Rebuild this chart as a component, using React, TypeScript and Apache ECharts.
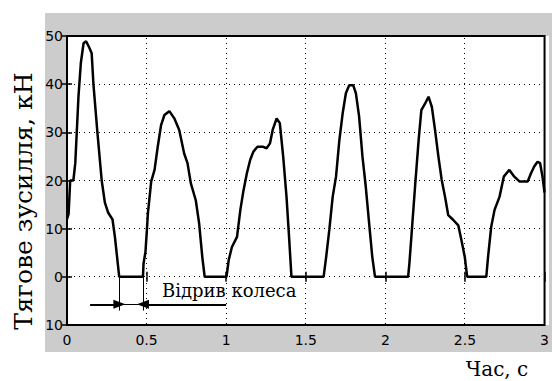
import React, { useEffect, useRef } from "react";
import * as echarts from "echarts";

// Time, s
const time = [
  0, 0.01, 0.02, 0.04, 0.052, 0.072, 0.087, 0.104, 0.12, 0.141, 0.155, 0.166, 0.191, 0.218, 0.238, 0.259, 0.286, 0.301, 0.328,
  0.477, 0.481, 0.493, 0.502, 0.508, 0.529, 0.55, 0.57, 0.591, 0.612, 0.643, 0.674, 0.705, 0.736, 0.757, 0.778, 0.809, 0.83, 0.85, 0.865,
  1.002, 1.016, 1.036, 1.068, 1.089, 1.109, 1.13, 1.151, 1.171, 1.196, 1.233, 1.254, 1.275, 1.292, 1.317, 1.337, 1.358, 1.379, 1.395, 1.41,
  1.612, 1.628, 1.648, 1.669, 1.69, 1.711, 1.732, 1.752, 1.773, 1.798, 1.815, 1.835, 1.856, 1.877, 1.898, 1.918, 1.935,
  2.143, 2.151, 2.168, 2.188, 2.209, 2.226, 2.25, 2.271, 2.292, 2.312, 2.333, 2.354, 2.375, 2.395, 2.427, 2.458, 2.478, 2.499, 2.514,
  2.634, 2.645, 2.665, 2.686, 2.717, 2.744, 2.779, 2.81, 2.842, 2.894, 2.915, 2.935, 2.956, 2.972, 2.987, 3.0,
];
// Traction force, kN
const force = [
  12, 13, 20, 20, 23.6, 37.4, 44.4, 48.5, 48.9, 47.5, 46.4, 40, 30, 20, 15.4, 13.3, 11.9, 8.3, 0,
  0, 2.8, 5.2, 9.8, 13.1, 19.8, 22.2, 27, 31.5, 33.6, 34.4, 32.9, 30.5, 25.6, 23.6, 19.4, 15.9, 11.1, 4.1, 0,
  0, 3.5, 6.2, 8.3, 13.9, 18, 21.5, 24.3, 26, 27, 27, 26.7, 27.7, 30.5, 32.9, 31.9, 25, 16.6, 8.3, 0,
  0, 4.1, 9.8, 16.6, 20.8, 28.4, 34, 38.1, 39.8, 39.8, 38.1, 33.3, 25, 18.7, 11.1, 4.1, 0,
  0, 2.8, 10.4, 19.4, 28.4, 34.6, 36, 37.4, 35.3, 30.5, 25, 20.1, 16.6, 12.8, 11.8, 10.7, 7.6, 4.1, 0,
  0, 4.1, 10.4, 13.9, 16.6, 20.8, 22.2, 20.8, 19.8, 19.8, 21.5, 22.9, 23.9, 23.6, 20.8, 17.5,
];

// Grid levels
const yGridLevels = [0, 10, 20, 30, 40];
const xGridLevels = [0.5, 1, 1.5, 2, 2.5];

// Wheel lift-off annotation (data units)
const liftStart = 0.329;
const liftEnd = 0.477;
const arrowLevel = -5.7;
const arrowLeftFrom = 0.145;
const arrowRightFrom = 1.0;
const markerTop = 0;
const markerBottom = -7;

const xTicks = { min: 0, max: 3, interval: 0.5 };
const yTicks = { min: -10, max: 50, interval: 10 };

const yTitle = "Тягове зусилля, кН";
const xTitle = "Час, с";
const noteText = "Відрив колеса";

const SERIF = "DejaVu Serif";
const SANS = "DejaVu Sans";
const DOT_PITCH = 5;

export default function App() {
  const ref = useRef<HTMLDivElement>(null);
  useEffect(() => {
    if (!ref.current) return;
    const chart = echarts.init(ref.current, undefined, { renderer: "svg" });
    const labelFont = { color: "#000", fontSize: 14, fontFamily: SANS };
    const plain = { symbol: "none" };
    const tick = { inside: true, length: 5, lineStyle: { color: "#000", width: 1.5 } };

    const dotRect = (x: number, y: number) => ({
      type: "rect",
      shape: { x: Math.floor(x), y: Math.floor(y), width: 1, height: 1 },
      style: { fill: "#000" },
      silent: true,
    });

    chart.setOption({
      animation: false,
      backgroundColor: "#fff",
      graphic: [
        { type: "rect", z: -100, shape: { x: 45, y: 13, width: 507, height: 339 }, style: { fill: "#cccccc" }, silent: true },
        { type: "rect", z: -90, shape: { x: 67, y: 36, width: 482, height: 289 }, style: { fill: "#ffffff" }, silent: true },
        {
          type: "text", x: 23, y: 201, rotation: Math.PI / 2, silent: true,
          style: { text: yTitle, fontSize: 25, fontFamily: SERIF, fill: "#000", textAlign: "center", textVerticalAlign: "middle" },
        },
        {
          type: "text", x: 497, y: 369, silent: true,
          style: { text: xTitle, fontSize: 20, fontFamily: SERIF, fill: "#000", textAlign: "center", textVerticalAlign: "middle" },
        },
        {
          type: "text", x: 162, y: 290, silent: true, z: 100,
          style: { text: noteText, fontSize: 18, fontFamily: SERIF, fill: "#000", textAlign: "left", textVerticalAlign: "middle" },
        },
      ],
      grid: { left: 67, top: 36, right: 3, bottom: 56, show: true, borderColor: "#000", borderWidth: 2 },
      xAxis: [
        {
          type: "value", ...xTicks, position: "bottom",
          axisLine: { show: false },
          axisTick: tick,
          axisLabel: { ...labelFont, margin: 8, formatter: (v: number) => String(v) },
          splitLine: { show: false },
        },
        {
          type: "value", ...xTicks, position: "top",
          axisLine: { show: false },
          axisTick: tick,
          axisLabel: { show: false },
          splitLine: { show: false },
        },
      ],
      yAxis: [
        {
          type: "value", ...yTicks, position: "left",
          axisLine: { show: false },
          axisTick: tick,
          axisLabel: { ...labelFont, margin: 4, formatter: (v: number) => String(Math.abs(v)) },
          splitLine: { show: false },
        },
        {
          type: "value", ...yTicks, position: "right",
          axisLine: { show: false },
          axisTick: tick,
          axisLabel: { show: false },
          splitLine: { show: false },
        },
      ],
      series: [
        {
          // horizontal dotted grid lines
          type: "custom",
          silent: true,
          z: 1,
          clip: false,
          data: yGridLevels.map((v) => [xTicks.min, v]),
          renderItem: (params: any, api: any) => {
            const v = api.value(1);
            const p0 = api.coord([xTicks.min, v]);
            const p1 = api.coord([xTicks.max, v]);
            const children: any[] = [];
            for (let x = p0[0] + 2; x < p1[0] - 1; x += DOT_PITCH) children.push(dotRect(x, p0[1]));
            return { type: "group", children };
          },
        },
        {
          // vertical dotted grid lines
          type: "custom",
          silent: true,
          z: 1,
          clip: false,
          data: xGridLevels.map((t) => [t, yTicks.min]),
          renderItem: (params: any, api: any) => {
            const t = api.value(0);
            const p0 = api.coord([t, yTicks.max]);
            const p1 = api.coord([t, yTicks.min]);
            const children: any[] = [];
            for (let y = p0[1] + 2; y < p1[1] - 1; y += DOT_PITCH) children.push(dotRect(p0[0], y));
            return { type: "group", children };
          },
        },
        {
          type: "line",
          data: time.map((t, i) => [t, force[i]]),
          showSymbol: false,
          symbol: "none",
          lineStyle: { color: "#000", width: 2.5 },
          silent: true,
          z: 5,
          markLine: {
            silent: true,
            animation: false,
            label: { show: false },
            emphasis: { disabled: true },
            symbolSize: [9, 12],
            data: [
              [
                { coord: [arrowLeftFrom, arrowLevel], symbol: "none", lineStyle: { color: "#000", width: 2, type: "solid" } },
                { coord: [liftStart, arrowLevel], symbol: "triangle" },
              ],
              [
                { coord: [arrowRightFrom, arrowLevel], symbol: "none", lineStyle: { color: "#000", width: 2, type: "solid" } },
                { coord: [liftEnd, arrowLevel], symbol: "triangle" },
              ],
              [
                { coord: [liftStart, arrowLevel], ...plain, lineStyle: { color: "#000", width: 1, type: "solid" } },
                { coord: [liftEnd, arrowLevel], ...plain },
              ],
              [
                { coord: [liftStart, markerTop], ...plain, lineStyle: { color: "#000", width: 1, type: "solid" } },
                { coord: [liftStart, markerBottom], ...plain },
              ],
              [
                { coord: [liftEnd, markerTop], ...plain, lineStyle: { color: "#000", width: 1, type: "solid" } },
                { coord: [liftEnd, markerBottom], ...plain },
              ],
            ],
          },
        },
      ],
    });
    return () => chart.dispose();
  }, []);
  return <div ref={ref} style={{ position: "absolute", left: 0, top: 0, width: 552, height: 381 }} />;
}
